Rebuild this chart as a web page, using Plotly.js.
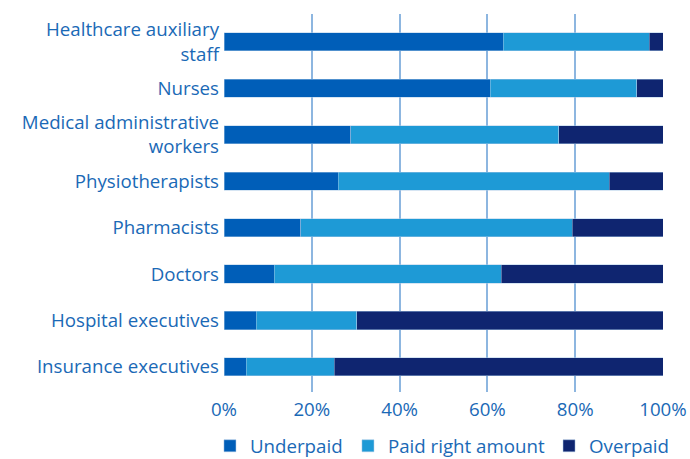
<!DOCTYPE html>
<html>
<head>
<meta charset="utf-8">
<script src="https://cdn.plot.ly/plotly-3.0.1.min.js"></script>
<style>html,body{margin:0;padding:0;background:#fff;}#chart{width:690px;height:459px;}</style>
</head>
<body>
<div id="chart"></div>
<script>
const categories = [
  "Healthcare auxiliary<br>staff",
  "Nurses",
  "Medical administrative<br>workers",
  "Physiotherapists",
  "Pharmacists",
  "Doctors",
  "Hospital executives",
  "Insurance executives"
];
const underpaid = [63.6, 60.6, 28.9, 26.0, 17.5, 11.4, 7.3, 5.1];
const paidRight = [33.3, 33.4, 47.4, 61.7, 61.8, 51.7, 22.9, 20.0];
const overpaid  = [3.1, 6.0, 23.7, 12.3, 20.7, 36.9, 69.8, 74.9];
const seriesNames = ["Underpaid", "Paid right amount", "Overpaid"];
const seriesColors = ["#005EB8", "#1E9AD6", "#0F2570"];
const xTickVals = [0, 20, 40, 60, 80, 100];
const xTickText = ["0%", "20%", "40%", "60%", "80%", "100%"];

const fontFam = "Open Sans, Noto Sans, sans-serif";
const textColor = "#1A69B6";
const fs = 18.7;
const legendIds = ["legend", "legend2", "legend3"];
const legendX = [0.3043, 0.5043, 0.7957];

const traces = [underpaid, paidRight, overpaid].map((vals, i) => ({
  type: "bar",
  orientation: "h",
  name: seriesNames[i],
  legend: legendIds[i],
  x: vals,
  y: categories,
  width: 0.39,
  marker: {color: seriesColors[i], line: {width: 0.6, color: "rgba(170,200,230,0.8)"}},
  hoverinfo: "x+name"
}));

const layout = {
  width: 690, height: 459,
  margin: {l: 224, r: 27, t: 14, b: 67, autoexpand: false},
  barmode: "stack",
  paper_bgcolor: "#fff",
  plot_bgcolor: "#fff",
  font: {family: fontFam, size: fs, color: textColor},
  xaxis: {
    range: [0, 100],
    tickvals: xTickVals,
    ticktext: xTickText,
    showgrid: true,
    gridcolor: "#8DB6E0",
    gridwidth: 2,
    zeroline: false,
    showline: false,
    ticks: "",
    ticklabelstandoff: 4,
    tickfont: {family: fontFam, size: fs, color: textColor},
    automargin: false,
    fixedrange: true
  },
  yaxis: {
    type: "category",
    range: [7.54, -0.60],
    showgrid: false,
    zeroline: false,
    showline: false,
    ticks: "",
    ticklabelstandoff: 4,
    tickfont: {family: fontFam, size: fs, color: textColor},
    automargin: false,
    fixedrange: true
  },
  showlegend: true
};

legendIds.forEach((id, i) => {
  layout[id] = {
    orientation: "h",
    xref: "container",
    x: legendX[i], xanchor: "left",
    yref: "container",
    y: 0.028, yanchor: "middle",
    bgcolor: "rgba(0,0,0,0)",
    font: {family: fontFam, size: fs, color: textColor},
    itemclick: false
  };
});

Plotly.newPlot("chart", traces, layout, {displayModeBar: false, staticPlot: true});
</script>
</body>
</html>
